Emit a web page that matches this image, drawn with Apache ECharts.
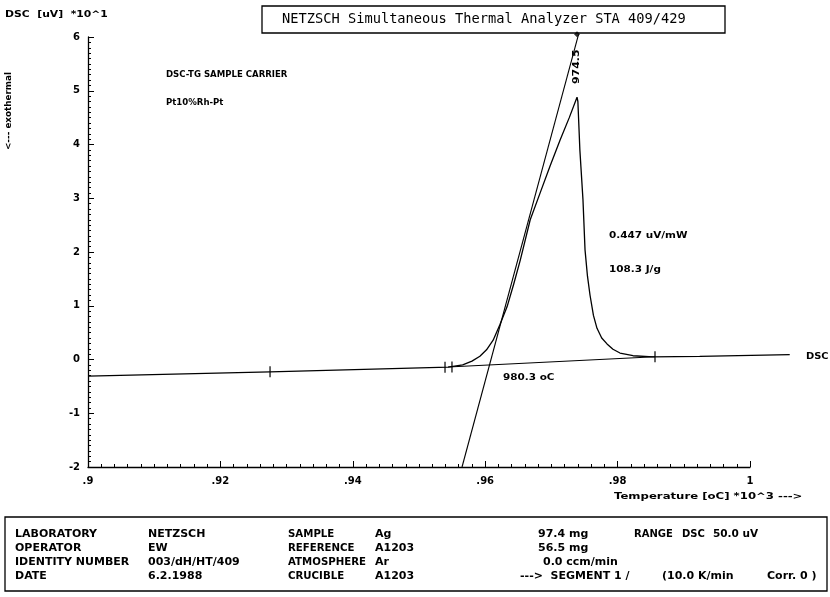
<!DOCTYPE html>
<html><head><meta charset="utf-8">
<script src="https://cdn.jsdelivr.net/npm/echarts@6/dist/echarts.min.js"></script>
<style>html,body{margin:0;padding:0;background:#fff}#c{width:830px;height:597px}</style>
</head><body><div id="c"></div>
<script>
// ---- data ----
const temps = [0.900, 0.9275, 0.9544, 0.9566, 0.9580, 0.9592, 0.9602, 0.9612, 0.9622, 0.9633, 0.9643, 0.9653, 0.9668, 0.9683, 0.9698, 0.9713, 0.9727, 0.97387, 0.9740, 0.9743, 0.97477, 0.97508, 0.97545, 0.97583, 0.97635, 0.97689, 0.9776, 0.9784, 0.9793, 0.98036, 0.98233, 0.98535, 0.9924, 1.006];
const dsc = [-0.31, -0.23, -0.14, -0.10, -0.03, 0.06, 0.18, 0.36, 0.64, 0.98, 1.40, 1.85, 2.60, 3.10, 3.60, 4.08, 4.50, 4.88, 4.80, 3.90, 2.97, 2.04, 1.55, 1.20, 0.82, 0.58, 0.40, 0.29, 0.19, 0.12, 0.07, 0.05, 0.06, 0.09];
const tangentT = [0.9565, 0.9741];
const tangentV = [-2, 6.05];
const baseT = [0.9544, 0.98565];
const baseV = [-0.14, 0.05];
const markT = [0.9275, 0.95393, 0.95498, 0.98565];
const markV = [-0.23, -0.145, -0.14, 0.05];
const peakT = [0.97387];
const peakMarkV = [6.05];
const xTickLabels = ['.9', '.92', '.94', '.96', '.98', '1'];
const yTickLabels = ['-2', '-1', '0', '1', '2', '3', '4', '5', '6'];

const zip = (a, b) => a.map((v, i) => [v, b[i]]);
const F = 'DejaVu Sans';
const chart = echarts.init(document.getElementById('c'), null, {renderer: 'canvas'});
const txt = (x, y, s, size, sx) => ({
  type: 'text', x: x, y: y, scaleX: sx || 1,
  style: {text: s, font: 'bold ' + size + 'px "' + F + '"', fill: '#000', verticalAlign: 'middle'}
});

const tableRows = [
  ['LABORATORY', 'NETZSCH', 'SAMPLE', 'Ag'],
  ['OPERATOR', 'EW', 'REFERENCE', 'A1203'],
  ['IDENTITY NUMBER', '003/dH/HT/409', 'ATMOSPHERE', 'Ar'],
  ['DATE', '6.2.1988', 'CRUCIBLE', 'A1203']
];
const colX = [15, 148, 288, 375];
const colScale = [1.1, 1.1, 1.02, 1.1];
const rowY = [534, 548, 562, 576];
const graphics = [];
graphics.push({type: 'rect', shape: {x: 262, y: 6, width: 463, height: 27}, style: {fill: 'none', stroke: '#000', lineWidth: 1.3}});
graphics.push({type: 'text', x: 282, y: 19, style: {text: 'NETZSCH Simultaneous Thermal Analyzer STA 409/429', font: '13.7px "DejaVu Sans Mono"', fill: '#000', verticalAlign: 'middle'}});
graphics.push(txt(5, 15, 'DSC  [uV]  *10^1', 9, 1.2));
graphics.push({type: 'text', x: 5, y: 150, rotation: Math.PI / 2, scaleX: 1.1, style: {text: '<--- exothermal', font: 'bold 8px "' + F + '"', fill: '#000', verticalAlign: 'top'}});
graphics.push(txt(166, 75, 'DSC-TG SAMPLE CARRIER', 8, 1.07));
graphics.push(txt(166, 103, 'Pt10%Rh-Pt', 8, 1.07));
graphics.push(txt(609, 236, '0.447 uV/mW', 9.5, 1.1));
graphics.push(txt(609, 270, '108.3 J/g', 9.5, 1.1));
graphics.push(txt(503, 378, '980.3 oC', 9.5, 1.1));
graphics.push(txt(806, 357, 'DSC', 9, 1.1));
graphics.push({type: 'text', x: 572, y: 84, rotation: Math.PI / 2, scaleX: 1.15, style: {text: '974.5', font: 'bold 9.5px "' + F + '"', fill: '#000', verticalAlign: 'top'}});
graphics.push(txt(614, 497, 'Temperature [oC] *10^3 --->', 9, 1.3));
graphics.push({type: 'rect', shape: {x: 5, y: 517, width: 822, height: 74}, style: {fill: 'none', stroke: '#000', lineWidth: 1.3}});
tableRows.forEach((r, i) => r.forEach((s, j) => graphics.push(txt(colX[j], rowY[i], s, 10, colScale[j]))));
graphics.push(txt(538, 534, '97.4 mg', 10, 1.1));
graphics.push(txt(538, 548, '56.5 mg', 10, 1.1));
graphics.push(txt(543, 562, '0.0 ccm/min', 10, 1.1));
graphics.push(txt(520, 576, '--->  SEGMENT 1 /', 10, 1.1));
graphics.push(txt(662, 576, '(10.0 K/min', 10, 1.1));
graphics.push(txt(767, 576, 'Corr. 0 )', 10, 1.1));
graphics.push(txt(634, 534, 'RANGE', 10, 1.0));
graphics.push(txt(682, 534, 'DSC', 10, 1.0));
graphics.push(txt(713, 534, '50.0 uV', 10, 1.05));

const lineStyle = {color: '#000', width: 1.3};
const axisBase = {
  axisLine: {onZero: false, lineStyle: {color: '#000', width: 1.3}},
  axisTick: {inside: true, length: 6, lineStyle: {color: '#000'}},
  minorTick: {show: true, splitNumber: 10, length: 3, lineStyle: {color: '#000'}},
  splitLine: {show: false}
};
chart.setOption({
  animation: false,
  backgroundColor: '#fff',
  grid: [
    {left: 88, right: 80, top: 37, bottom: 130},
    {left: 88, width: 728.2, top: 37, bottom: 130}
  ],
  xAxis: [
    Object.assign({
      type: 'value', min: 0.9, max: 1.0, interval: 0.02, gridIndex: 0,
      axisLabel: {color: '#000', fontFamily: F, fontWeight: 'bold', fontSize: 10, margin: 9,
        formatter: v => xTickLabels[Math.round((v - 0.9) / 0.02)]}
    }, axisBase),
    {type: 'value', min: 0.9, max: 1.01, gridIndex: 1, show: false}
  ],
  yAxis: [
    Object.assign({
      type: 'value', min: -2, max: 6, interval: 1, gridIndex: 0,
      axisLabel: {color: '#000', fontFamily: F, fontWeight: 'bold', fontSize: 10, margin: 8,
        formatter: v => yTickLabels[Math.round(v + 2)]}
    }, axisBase),
    {type: 'value', min: -2, max: 6, gridIndex: 1, show: false}
  ],
  series: [
    {type: 'line', xAxisIndex: 1, yAxisIndex: 1, data: zip(temps, dsc), showSymbol: false, smooth: false, clip: false, lineStyle},
    {type: 'line', xAxisIndex: 1, yAxisIndex: 1, data: zip(tangentT, tangentV), showSymbol: false, clip: false, lineStyle: {color: '#000', width: 1.1}},
    {type: 'line', xAxisIndex: 1, yAxisIndex: 1, data: zip(baseT, baseV), showSymbol: false, lineStyle: {color: '#000', width: 1.1}},
    {type: 'scatter', xAxisIndex: 1, yAxisIndex: 1, data: zip(markT, markV), symbol: 'rect', symbolSize: [1.5, 11], itemStyle: {color: '#000'}},
    {type: 'scatter', xAxisIndex: 1, yAxisIndex: 1, data: zip(peakT, peakMarkV), symbol: 'diamond', symbolSize: 6, clip: false, itemStyle: {color: '#000'}}
  ],
  graphic: graphics
});
</script></body></html>
